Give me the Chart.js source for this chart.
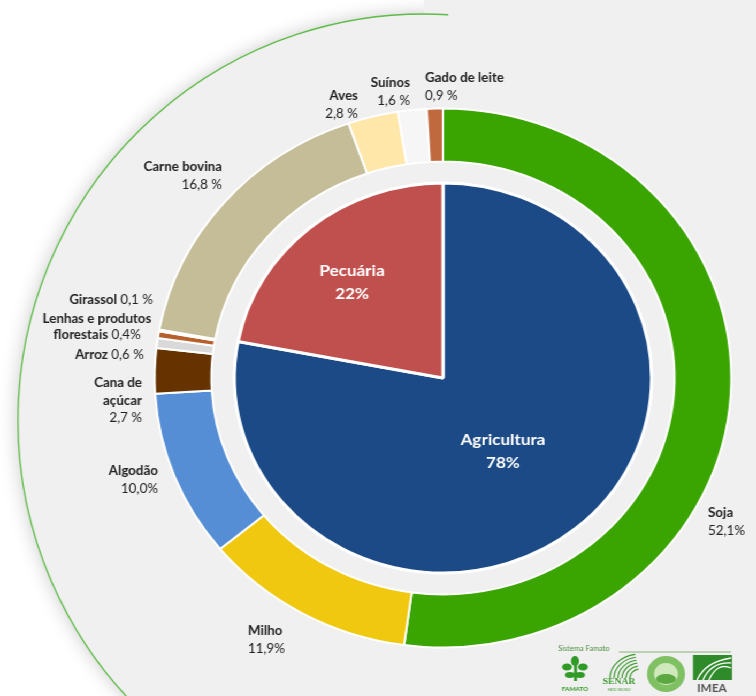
<!DOCTYPE html>
<html lang="pt-BR">
<head>
<meta charset="utf-8">
<title>Valor Bruto da Produção - Mato Grosso</title>
<script src="https://cdn.jsdelivr.net/npm/chart.js@4.4.1/dist/chart.umd.min.js"></script>
<style>
  html, body { margin: 0; padding: 0; background: #fff; overflow: hidden; }
  /* o gráfico original é levemente esticado na horizontal */
  #palco { position: relative; width: 707px; height: 696px; transform: scaleX(1.07); transform-origin: 0 0; }
  #palco canvas { position: absolute; left: 0; top: 0; }
</style>
</head>
<body>
<div id="palco">
  <canvas id="anel" width="707" height="696"></canvas>
  <canvas id="pizza" width="707" height="696"></canvas>
</div>
<script>
// anel externo: participação de cada cultura/criação (%)
const categorias = ["Soja", "Milho", "Algodão", "Cana de açúcar", "Arroz",
  "Lenhas e produtos florestais", "Girassol", "Carne bovina", "Aves", "Suínos", "Gado de leite"];
const valores = [52.1, 11.9, 10.0, 2.7, 0.6, 0.4, 0.1, 16.8, 2.8, 1.6, 0.9];
const cores = ["#3aa500", "#f0c80f", "#558ed5", "#663300", "#d9d9d9",
  "#b8602c", "#ffc000", "#c4bd97", "#ffe6a9", "#f6f6f6", "#c0693f"];

// pizza interna: agricultura x pecuária (%)
const setores = ["Agricultura", "Pecuária"];
const setoresValores = [78, 22];
const setoresCores = ["#1b4a86", "#c0504d"];

const ESTICA = 1.07;
const X = v => v / ESTICA;   // coordenada da página -> coordenada do canvas

// onde vai cada rótulo do anel (coordenadas da página)
const posRotulos = [
  { x: 708, y: 513, alinha: "left" },
  { x: 248, y: 631, alinha: "left" },
  { x: 158, y: 471, alinha: "right" },
  { x: 142, y: 383, alinha: "right", quebra: 2, espaco: true },
  { x: 144, y: 355, alinha: "right", junto: true, espaco: true },
  { x: 97, y: 319, alinha: "center", quebra: 3, junto: true, linha: 16 },
  { x: 153, y: 300, alinha: "right", junto: true, espaco: true },
  { x: 222, y: 167, alinha: "right", espaco: true },
  { x: 358, y: 96, alinha: "right", espaco: true },
  { x: 410, y: 83, alinha: "right", espaco: true },
  { x: 425, y: 78, alinha: "left", espaco: true }
];
const posSetores = [{ x: 503, y: 440 }, { x: 352, y: 271 }];

const FONTE_NOME = "bold 12.5px Lato";
const FONTE_VALOR = "12.5px Lato";

function pct(v, espaco) {
  return v.toFixed(1).replace(".", ",") + (espaco ? " %" : "%");
}

// escreve uma linha com parte em negrito e parte normal
function linhaMista(ctx, negrito, normal, x, y, alinha) {
  ctx.font = FONTE_NOME;
  const w1 = ctx.measureText(negrito).width;
  ctx.font = FONTE_VALOR;
  const w2 = normal ? ctx.measureText(normal).width : 0;
  const total = w1 + w2;
  let x0 = x;
  if (alinha === "right") x0 = x - total;
  if (alinha === "center") x0 = x - total / 2;
  ctx.textAlign = "left";
  ctx.font = FONTE_NOME;
  ctx.fillText(negrito, x0, y);
  if (normal) {
    ctx.font = FONTE_VALOR;
    ctx.fillText(normal, x0 + w1, y);
  }
}

function desenharLogos(ctx) {
  ctx.save();
  ctx.textBaseline = "middle";
  ctx.fillStyle = "#4f8f3f";
  ctx.font = "7px Lato";
  ctx.textAlign = "left";
  ctx.fillText("Sistema Famato", X(558), 649);
  ctx.strokeStyle = "#6aa55a";
  ctx.lineWidth = 0.8;
  ctx.beginPath(); ctx.moveTo(X(619), 652); ctx.lineTo(X(731), 652); ctx.stroke();

  // FAMATO
  ctx.fillStyle = "#2f9a26";
  [[575, 661, 4, 5], [567, 667, 5, 3.5], [583, 667, 5, 3.5], [570, 675, 5, 3], [580, 675, 5, 3]].forEach(f => {
    ctx.beginPath(); ctx.ellipse(X(f[0]), f[1], X(f[2]), f[3], 0, 0, Math.PI * 2); ctx.fill();
  });
  ctx.fillRect(X(574), 663, X(3), 18);
  ctx.font = "bold 6px Lato"; ctx.textAlign = "center";
  ctx.fillText("FAMATO", X(575), 689);

  // SENAR
  ctx.strokeStyle = "#3f9a30"; ctx.lineWidth = 1.2;
  for (let k = 0; k < 6; k++) {
    ctx.beginPath();
    ctx.ellipse(X(640), 678, X(30 - k * 4), 24 - k * 3, 0, Math.PI, Math.PI * 1.45);
    ctx.stroke();
  }
  ctx.fillStyle = "#3f9a30";
  ctx.font = "bold 9px 'Liberation Serif'";
  ctx.fillText("SENAR", X(619), 682);
  ctx.font = "3px Lato";
  ctx.fillText("MATO GROSSO", X(619), 690);

  // selo circular
  ctx.fillStyle = "#7fc063";
  ctx.beginPath(); ctx.ellipse(X(666), 674, X(19), 18, 0, 0, Math.PI * 2); ctx.fill();
  ctx.fillStyle = "#cfe9bd";
  ctx.beginPath(); ctx.ellipse(X(666), 674, X(12), 11, 0, 0, Math.PI * 2); ctx.fill();
  ctx.fillStyle = "#5aa83f";
  ctx.beginPath(); ctx.ellipse(X(666), 679, X(10), 5, 0, 0, Math.PI * 2); ctx.fill();

  // IMEA
  ctx.fillStyle = "#2f8a2a";
  ctx.fillRect(X(693), 655, X(39), 25);
  ctx.strokeStyle = "#fff"; ctx.lineWidth = 1.3;
  for (let k = 0; k < 3; k++) {
    ctx.beginPath();
    ctx.moveTo(X(697 + k * 6), 680);
    ctx.quadraticCurveTo(X(705 + k * 6), 662, X(731), 658 + k * 5);
    ctx.stroke();
  }
  ctx.fillStyle = "#555";
  ctx.font = "bold 11px Lato";
  ctx.fillText("IMEA", X(712), 688);
  ctx.restore();
}

// fundo: disco cinza com contorno verde à esquerda
const fundo = {
  id: "fundo",
  beforeDraw(chart) {
    const ctx = chart.ctx;
    const w = chart.width, h = chart.height;
    const cx = X(424), cy = 420, rx = X(406), ry = 406;
    ctx.save();
    ctx.fillStyle = "#fff";
    ctx.fillRect(0, 0, w, h);
    ctx.shadowColor = "rgba(0,0,0,0.22)";
    ctx.shadowBlur = 18;
    ctx.fillStyle = "#f0f0f0";
    ctx.beginPath();
    ctx.ellipse(cx, cy, rx, ry, 0, 0, Math.PI * 2);
    ctx.fill();
    ctx.shadowColor = "transparent";
    ctx.fillRect(cx, 0, w - cx, h);
    ctx.strokeStyle = "#5cbc45";
    ctx.lineWidth = 1.3;
    ctx.beginPath();
    ctx.ellipse(cx, cy, rx, ry, 0, -Math.PI / 2 + 0.06, Math.PI * 0.72, true);
    ctx.stroke();
    ctx.restore();
  },
  afterDraw(chart) {
    desenharLogos(chart.ctx);
  }
};

const rotulosAnel = {
  id: "rotulosAnel",
  afterDraw(chart) {
    const ctx = chart.ctx;
    ctx.save();
    ctx.textBaseline = "middle";
    ctx.fillStyle = "#222";
    categorias.forEach((nome, i) => {
      const p = posRotulos[i];
      const passo = p.linha || 17.5;
      const palavras = nome.split(" ");
      const linhas = p.quebra
        ? [palavras.slice(0, p.quebra).join(" "), palavras.slice(p.quebra).join(" ")]
        : [nome];
      const valor = pct(valores[i], p.espaco);
      const x = X(p.x);
      let y = p.y;
      linhas.forEach((l, k) => {
        const ultima = k === linhas.length - 1;
        linhaMista(ctx, l, ultima && p.junto ? " " + valor : "", x, y, p.alinha);
        y += passo;
      });
      if (!p.junto) linhaMista(ctx, "", valor, x, y, p.alinha);
    });
    ctx.restore();
  }
};

const rotulosPizza = {
  id: "rotulosPizza",
  afterDraw(chart) {
    const ctx = chart.ctx;
    ctx.save();
    ctx.fillStyle = "#fff";
    ctx.textAlign = "center";
    ctx.textBaseline = "middle";
    setores.forEach((s, i) => {
      const p = posSetores[i];
      ctx.font = "bold 16px Lato";
      ctx.fillText(s, X(p.x), p.y);
      ctx.fillText(setoresValores[i] + "%", X(p.x), p.y + 23);
    });
    ctx.restore();
  }
};

const comum = {
  responsive: false,
  animation: false,
  events: [],
  layout: { padding: { left: 121, top: 60, right: 0, bottom: 0 } },
  plugins: { legend: { display: false }, tooltip: { enabled: false } }
};

new Chart(document.getElementById("anel"), {
  type: "doughnut",
  data: {
    labels: categorias,
    datasets: [{ data: valores, backgroundColor: cores, borderColor: "#fff", borderWidth: 2 }]
  },
  options: { ...comum, radius: 269.5, cutout: "80.3%" },
  plugins: [fundo, rotulosAnel]
});

new Chart(document.getElementById("pizza"), {
  type: "pie",
  data: {
    labels: setores,
    datasets: [{ data: setoresValores, backgroundColor: setoresCores, borderColor: "#fff", borderWidth: 3 }]
  },
  options: { ...comum, radius: 195 },
  plugins: [rotulosPizza]
});
</script>
</body>
</html>
